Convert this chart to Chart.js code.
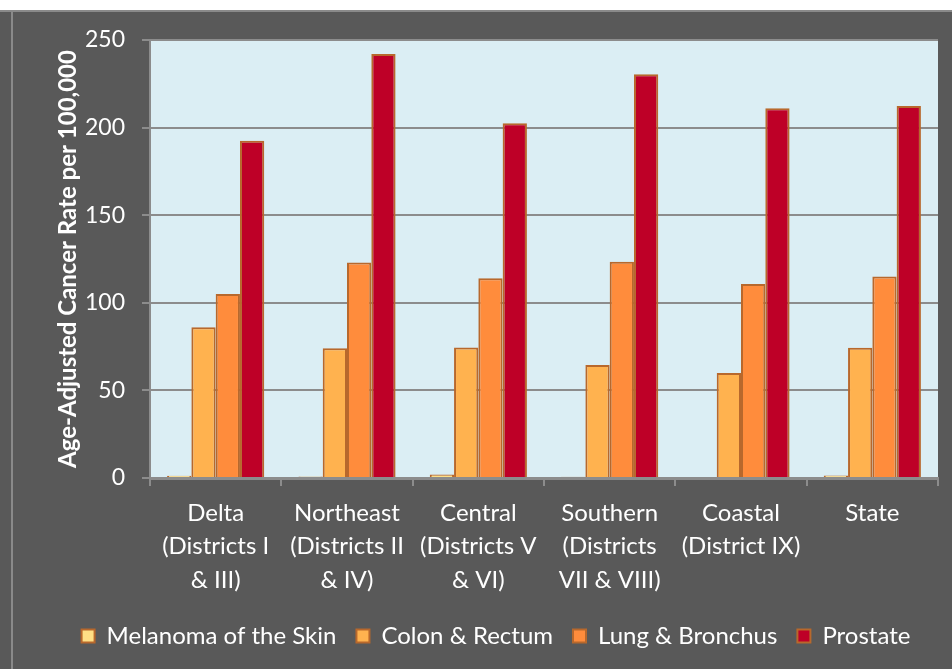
<!DOCTYPE html>
<html>
<head>
<meta charset="utf-8">
<script src="https://cdn.jsdelivr.net/npm/chart.js@4.4.0/dist/chart.umd.min.js"></script>
<style>
    html, body { margin: 0; padding: 0; background: #ffffff; }
    #box { position: absolute; left: 0; top: 0; width: 952px; height: 669px; }
</style>
</head>
<body>
<div id="box"><canvas id="chart" width="952" height="669"></canvas></div>
<script>
    const regions = [
        ['Delta', '(Districts I', '& III)'],
        ['Northeast', '(Districts II', '& IV)'],
        ['Central', '(Districts V', '& VI)'],
        ['Southern', '(Districts', 'VII & VIII)'],
        ['Coastal', '(District IX)'],
        ['State']
    ];
    const melanoma = [1.3, 0.8, 2.0, 0.7, 0, 1.4];
    const colonRectum = [86, 74, 74.5, 64.5, 60, 74.3];
    const lungBronchus = [105, 123, 114, 123.5, 110.7, 115];
    const prostate = [192.5, 242, 202.5, 230.5, 211, 212.3];
    const yTicks = [0, 50, 100, 150, 200, 250];

    const font = 'Lato, "Open Sans", sans-serif';
    const grey = '#8c8c8c';
    const edge = '#b8682c';

    // page frame and plot background
    const background = {
        id: 'background',
        beforeDraw(chart) {
            const ctx = chart.ctx;
            const a = chart.chartArea;
            ctx.save();
            ctx.fillStyle = '#ffffff';
            ctx.fillRect(0, 0, chart.width, chart.height);
            ctx.fillStyle = '#595959';
            ctx.fillRect(0, 10, chart.width, chart.height - 10);
            ctx.strokeStyle = '#8a8a8a';
            ctx.lineWidth = 2;
            ctx.beginPath();
            ctx.moveTo(0, 11);
            ctx.lineTo(chart.width, 11);
            ctx.moveTo(12, 10);
            ctx.lineTo(12, chart.height);
            ctx.stroke();
            ctx.fillStyle = '#dbeef4';
            ctx.fillRect(a.left, a.top, a.right - a.left, a.bottom - a.top);
            ctx.restore();
        }
    };

    function series(label, data, color) {
        return {
            label: label,
            data: data,
            backgroundColor: color,
            borderColor: edge,
            borderWidth: 2,
            borderSkipped: 'bottom',
            categoryPercentage: 0.74,
            barPercentage: 1.0
        };
    }

    new Chart(document.getElementById('chart'), {
        type: 'bar',
        data: {
            labels: regions,
            datasets: [
                series('Melanoma of the Skin', melanoma, '#ffdf85'),
                series('Colon & Rectum', colonRectum, '#ffb24f'),
                series('Lung & Bronchus', lungBronchus, '#ff8c3c'),
                series('Prostate', prostate, '#be0027')
            ]
        },
        options: {
            responsive: false,
            animation: false,
            devicePixelRatio: 1,
            layout: { padding: { left: 54, right: 14, top: 40, bottom: 11 } },
            scales: {
                x: {
                    grid: { drawOnChartArea: false, drawTicks: true, tickLength: 8, color: grey, lineWidth: 2 },
                    border: { color: grey, width: 3 },
                    ticks: {
                        color: '#ffffff',
                        font: { family: font, size: 24, lineHeight: 1.38 },
                        padding: 11,
                        maxRotation: 0,
                        autoSkip: false
                    },
                    afterFit: s => { s.height = 126; }
                },
                y: {
                    min: 0,
                    max: 250,
                    afterBuildTicks: s => { s.ticks = yTicks.map(v => ({ value: v })); },
                    grid: { color: grey, lineWidth: 2, tickLength: 8 },
                    border: { color: grey, width: 2 },
                    ticks: {
                        color: '#ffffff',
                        font: { family: font, size: 23 },
                        padding: 17
                    },
                    title: {
                        display: true,
                        text: 'Age-Adjusted Cancer Rate per 100,000',
                        color: '#ffffff',
                        font: { family: font, size: 24, weight: 'bold' },
                        padding: { top: 0, bottom: 0 }
                    },
                    afterFit: s => { s.width = 96; }
                }
            },
            plugins: {
                legend: {
                    position: 'bottom',
                    labels: {
                        color: '#ffffff',
                        font: { family: font, size: 24 },
                        boxWidth: 13,
                        boxHeight: 13,
                        padding: 20,
                        useBorderRadius: false
                    }
                },
                tooltip: { enabled: false }
            }
        },
        plugins: [background]
    });
</script>
</body>
</html>
